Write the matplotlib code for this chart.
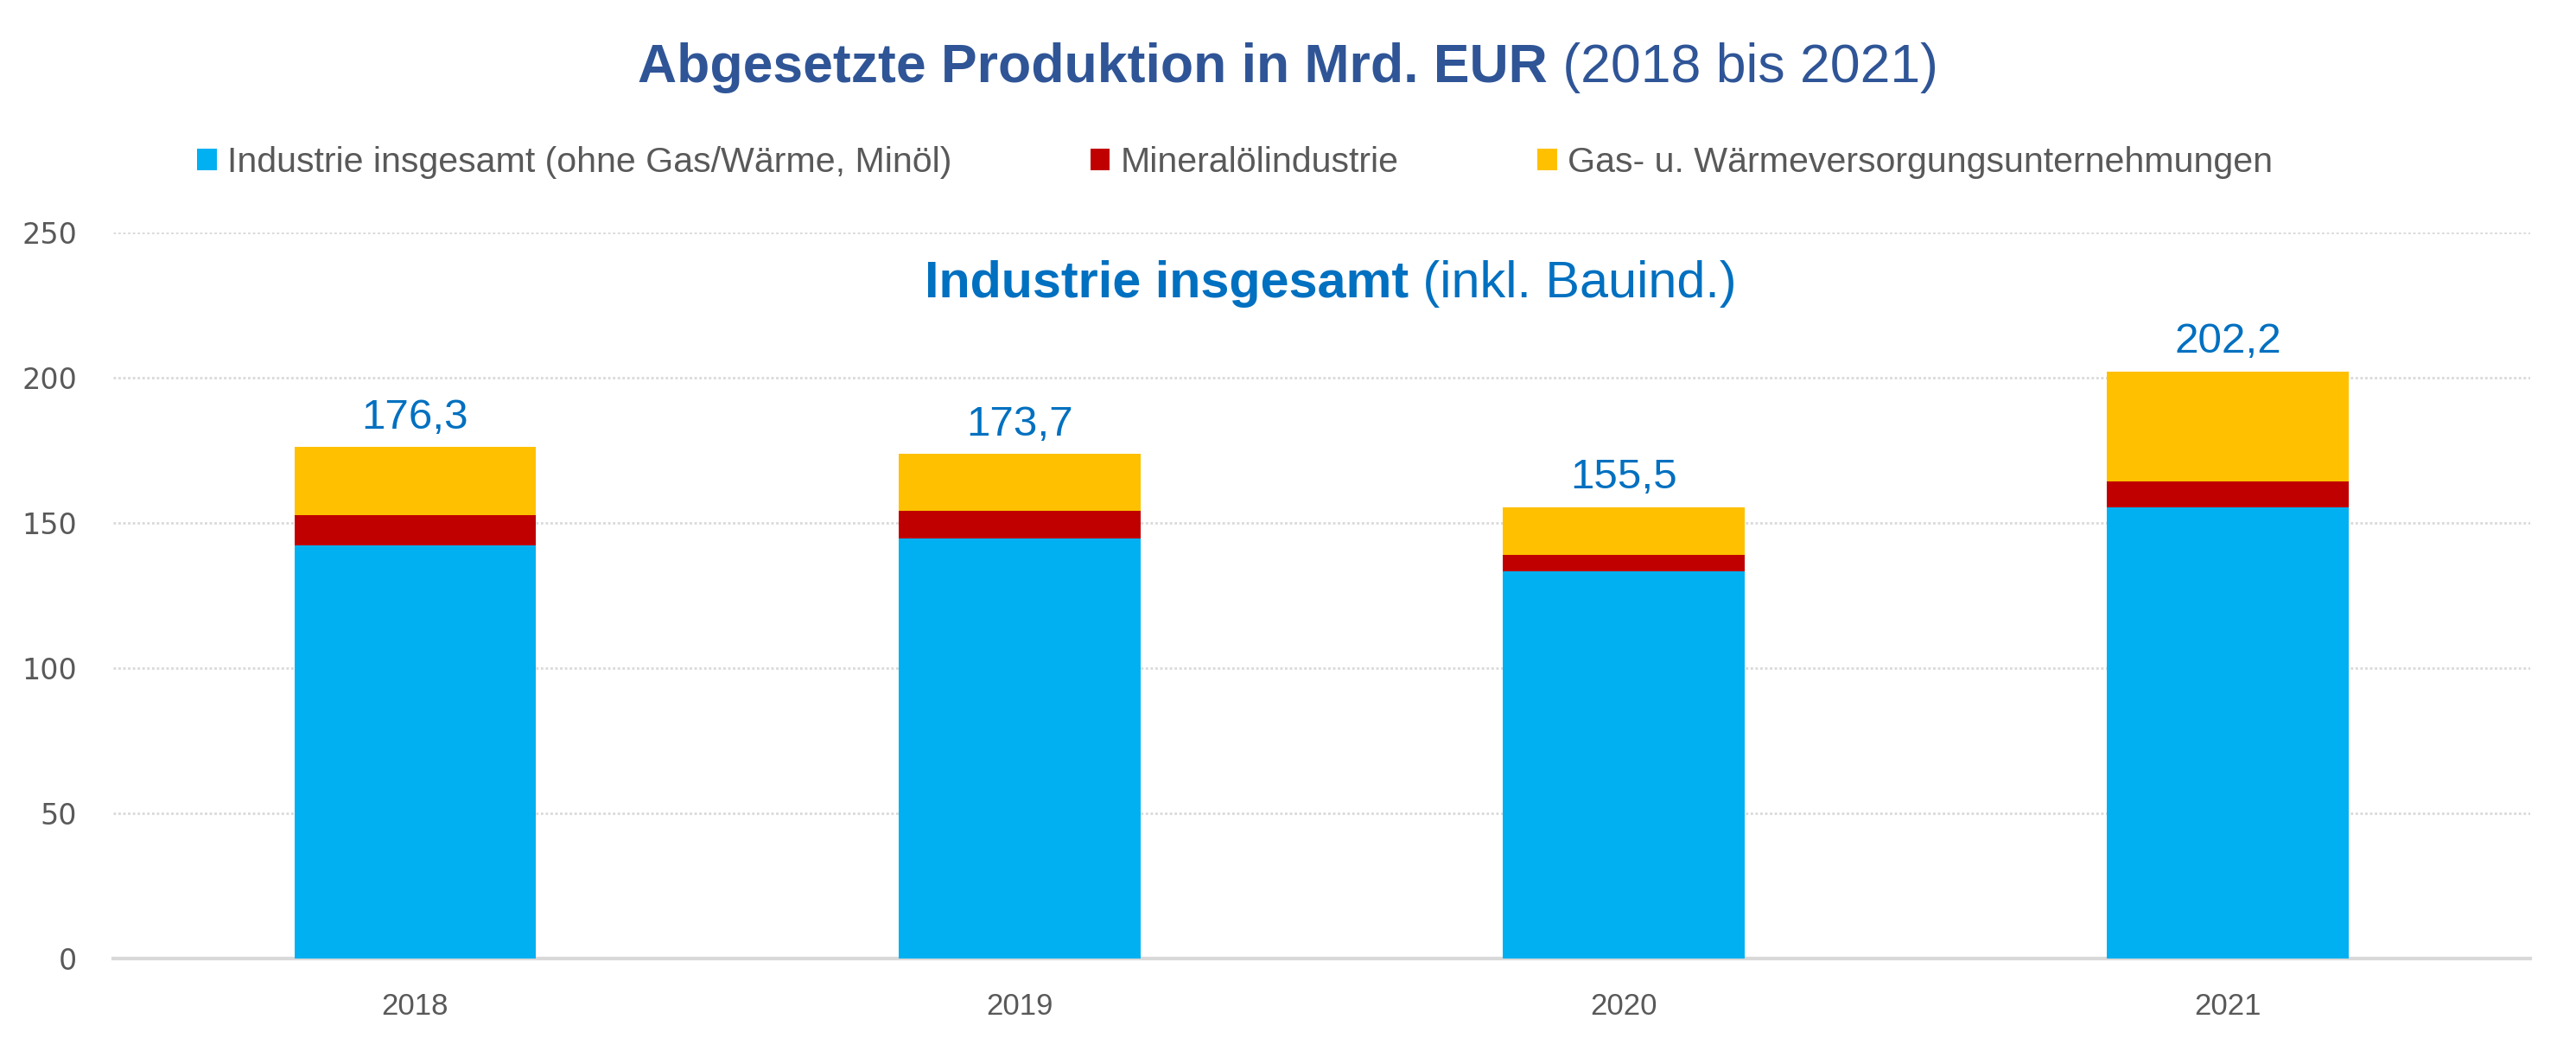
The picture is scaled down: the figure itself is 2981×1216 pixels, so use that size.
import matplotlib
matplotlib.use("Agg")
import matplotlib.pyplot as plt
from matplotlib.patches import Patch

# Werte (Mrd. EUR)
jahre = ["2018", "2019", "2020", "2021"]
industrie = [142.3, 144.6, 133.3, 155.5]
mineraloel = [10.4, 9.6, 5.8, 8.9]
gas_waerme = [23.6, 19.5, 16.4, 37.8]
summen = ["176,3", "173,7", "155,5", "202,2"]

serien = ["Industrie insgesamt (ohne Gas/Wärme, Minöl)",
          "Mineralölindustrie",
          "Gas- u. Wärmeversorgungsunternehmungen"]
farben = ["#00B0F0", "#C00000", "#FFC000"]

schmal = ["Liberation Sans", "DejaVu Sans"]

fig = plt.figure(figsize=(14.905, 6.08), dpi=200)
ax = fig.add_axes([0.0439, 0.0880, 0.9383, 0.6908])

x = range(len(jahre))
ax.bar(x, industrie, width=0.4, color=farben[0], zorder=3)
unten = industrie
ax.bar(x, mineraloel, width=0.4, bottom=unten, color=farben[1], zorder=3)
unten = [a + b for a, b in zip(industrie, mineraloel)]
ax.bar(x, gas_waerme, width=0.4, bottom=unten, color=farben[2], zorder=3)
oben = [a + b for a, b in zip(unten, gas_waerme)]

for xi, yi, s in zip(x, oben, summen):
    ax.annotate(s, (xi, yi), xytext=(0, 4), textcoords="offset points",
                ha="center", va="bottom", fontsize=17.8, color="#0070C0",
                family=schmal)

ax.set_xlim(-0.5, 3.5)
ax.set_ylim(0, 250)
ax.set_yticks(range(0, 251, 50))
ax.set_xticks(list(x))
ax.set_xticklabels(jahre, family=schmal, fontsize=12.5, color="#595959")
ax.tick_params(axis="y", labelsize=12, labelcolor="#595959", length=0, pad=15)
ax.tick_params(axis="x", length=0, pad=14)
ax.yaxis.grid(True, linestyle=(0, (1, 1)), color="#D9D9D9", linewidth=1.0, zorder=0)
for s in ["top", "right", "left"]:
    ax.spines[s].set_visible(False)
ax.spines["bottom"].set_color("#D9D9D9")
ax.spines["bottom"].set_linewidth(1.5)

fig.canvas.draw()
r = fig.canvas.get_renderer()


def zweiteilig(fett, normal, xc, yc, size, color):
    t1 = fig.text(0, yc, fett, fontsize=size, fontweight="bold", color=color,
                  family=schmal, va="center", ha="left")
    t2 = fig.text(0, yc, normal, fontsize=size, color=color,
                  family=schmal, va="center", ha="left")
    w1 = t1.get_window_extent(r).width
    w2 = t2.get_window_extent(r).width
    start = xc * fig.bbox.width - (w1 + w2) / 2
    t1.set_x(start / fig.bbox.width)
    t2.set_x((start + w1) / fig.bbox.width)


zweiteilig("Abgesetzte Produktion in Mrd. EUR", " (2018 bis 2021)",
           0.5, 1 - 78 / 1216, 22.5, "#2F5597")
zweiteilig("Industrie insgesamt", " (inkl. Bauind.)",
           1540 / 2981, 1 - 328 / 1216, 21.4, "#0070C0")

griffe = [Patch(facecolor=c) for c in farben]
fig.legend(griffe, serien, ncol=3, loc="center left",
           bbox_to_anchor=(228 / 2981, 1 - 188 / 1216), frameon=False,
           borderpad=0, borderaxespad=0, handlelength=0.55, handleheight=0.55,
           handletextpad=0.3, columnspacing=3.9,
           prop={"family": schmal, "size": 14.8}, labelcolor="#595959")

fig.savefig("out.png", dpi=200)
